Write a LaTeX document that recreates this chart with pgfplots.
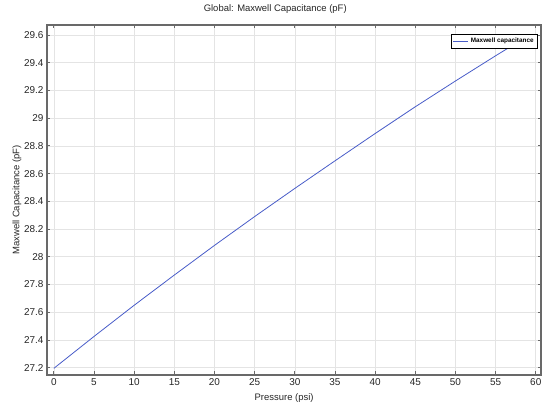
\documentclass[border=0pt]{standalone}
\usepackage{fontspec}
\setmainfont{Liberation Sans}
\usepackage{pgfplots}
\pgfplotsset{compat=1.18}
\definecolor{lineblue}{RGB}{72,92,200}
\definecolor{framegray}{RGB}{105,105,105}
\definecolor{gridgray}{RGB}{228,228,228}
\begin{document}
\begin{tikzpicture}
\useasboundingbox (0,0) rectangle (550bp,413bp);
\begin{axis}[
    at={(47bp,38bp)}, anchor=south west,
    scale only axis,
    width=494bp, height=350bp,
    xmin=-0.85, xmax=60.65,
    ymin=27.147, ymax=29.672,
    xtick={0,5,...,60},
    ytick={27.2,27.4,...,29.61},
    yticklabel style={/pgf/number format/.cd, fixed, precision=1},
    /pgf/number format/assume math mode=true,
    tick label style={font=\fontsize{10}{12}\selectfont, text=black!85},
    tick align=inside,
    major tick length=3.5bp,
    tick style={framegray, line width=0.8pt},
    axis line style={framegray, line width=1.1pt},
    grid=major,
    major grid style={gridgray, line width=0.6pt},
    title={Global: Maxwell Capacitance (pF)},
    title style={at={(0.462,1)}, yshift=2bp, font=\fontsize{9.5}{11}\selectfont, text=black!85},
    xlabel={Pressure (psi)},
    xlabel style={at={(ticklabel cs:0.48)}, anchor=north, yshift=-1bp,
        font=\fontsize{9.5}{11}\selectfont, text=black!85},
    ylabel={Maxwell Capacitance (pF)},
    ylabel style={font=\fontsize{9.5}{11}\selectfont, text=black!85, yshift=-4bp},
    legend style={at={(0.994,0.975)}, anchor=north east, draw=black, line width=0.9pt,
        font=\fontsize{6.4}{7}\selectfont\bfseries, inner sep=2pt,
        cells={anchor=west}},
    legend image code/.code={\draw[lineblue, line width=0.9pt] (0bp,0bp) -- (15bp,0bp);},
]
\addplot[lineblue, line width=0.8pt] coordinates {
    (0,27.195) (5,27.425) (10,27.650) (15,27.868) (20,28.082) (25,28.290)
    (30,28.493) (35,28.692) (40,28.889) (45,29.082) (50,29.268) (55,29.450) (57,29.521)
};
\addlegendentry{Maxwell capacitance}
\end{axis}
\end{tikzpicture}
\end{document}
